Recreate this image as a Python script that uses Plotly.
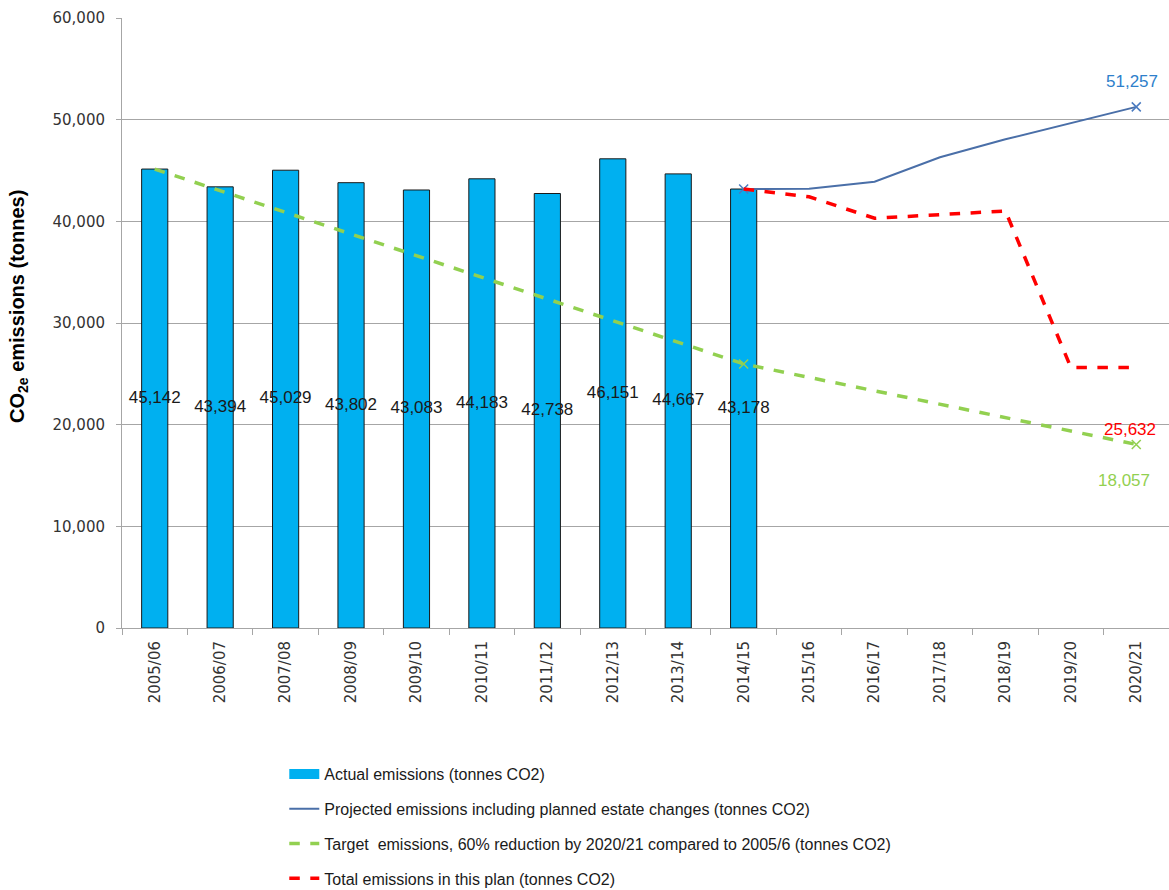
import plotly.graph_objects as go

years = ["2005/06", "2006/07", "2007/08", "2008/09", "2009/10", "2010/11", "2011/12",
         "2012/13", "2013/14", "2014/15", "2015/16", "2016/17", "2017/18", "2018/19",
         "2019/20", "2020/21"]

actual_years = years[:10]
actual = [45142, 43394, 45029, 43802, 43083, 44183, 42738, 46151, 44667, 43178]

projected_years = years[9:]
projected = [43178, 43210, 43900, 46300, 48070, 49640, 51257]

target = [45142, 43010, 40880, 38750, 36620, 34490, 32360, 30230, 28100, 25970,
          24650, 23330, 22010, 20700, 19380, 18057]

plan_years = years[9:]
plan = [43178, 42420, 40300, 40620, 41020, 25632, 25632]

# Points that carry a cross marker
projected_marked = [projected_years[0], projected_years[-1]]
projected_marked_vals = [projected[0], projected[-1]]
target_marked = [years[9], years[-1]]
target_marked_vals = [target[9], target[-1]]

LABEL_FONT = "Liberation Sans Narrow, Liberation Sans, Arial"
TICK_FONT = "DejaVu Sans, Verdana"

BAR_BLUE = "#00B0F0"
LINE_BLUE = "#4A6FA8"
GREEN = "#92D050"
RED = "#FF0000"

fig = go.Figure()

fig.add_trace(go.Bar(
    x=actual_years, y=actual, name="Actual emissions (tonnes CO2)",
    marker=dict(color=BAR_BLUE, line=dict(color="#1a1a1a", width=1)),
    width=0.4, showlegend=False,
))

# Value labels centred on each bar
fig.add_trace(go.Scatter(
    x=actual_years, y=[v / 2 for v in actual], mode="text",
    text=[f"{v:,}" for v in actual], textposition="middle center",
    textfont=dict(family=LABEL_FONT, size=17, color="#1a1a1a"),
    showlegend=False, hoverinfo="skip",
))

fig.add_trace(go.Scatter(
    x=projected_years, y=projected, mode="lines",
    line=dict(color=LINE_BLUE, width=2), showlegend=False,
))
fig.add_trace(go.Scatter(
    x=projected_marked, y=projected_marked_vals, mode="markers",
    marker=dict(symbol="x-thin", size=9, line=dict(color="#4A7BC0", width=1.5)),
    showlegend=False,
))

fig.add_trace(go.Scatter(
    x=years, y=target, mode="lines",
    line=dict(color=GREEN, width=3.5, dash="dash"), showlegend=False,
))
fig.add_trace(go.Scatter(
    x=target_marked, y=target_marked_vals, mode="markers",
    marker=dict(symbol="x-thin", size=9, line=dict(color=GREEN, width=1.5)),
    showlegend=False,
))

fig.add_trace(go.Scatter(
    x=plan_years, y=plan, mode="lines",
    line=dict(color=RED, width=3.5, dash="dash"), showlegend=False,
))

# Legend entries
legend_items = [
    ("Actual emissions (tonnes CO2)", dict(color=BAR_BLUE, width=11)),
    ("Projected emissions including planned estate changes (tonnes CO2)",
     dict(color=LINE_BLUE, width=2)),
    ("Target  emissions, 60% reduction by 2020/21 compared to 2005/6 (tonnes CO2)",
     dict(color=GREEN, width=3.5, dash="dash")),
    ("Total emissions in this plan (tonnes CO2)", dict(color=RED, width=3.5, dash="dash")),
]
for i, (label, line) in enumerate(legend_items):
    fig.add_trace(go.Scatter(
        x=[None], y=[None], mode="lines", name=label, line=line,
        legendgroup=f"g{i}", showlegend=True,
    ))

# End-point value labels
fig.add_annotation(x=years[-1], y=projected[-1], text=f"{projected[-1]:,}",
                   showarrow=False, yshift=25, xshift=-4,
                   font=dict(family=LABEL_FONT, size=17, color="#2E7FCB"))
fig.add_annotation(x=years[-1], y=plan[-1], text=f"{plan[-1]:,}",
                   showarrow=False, yshift=-62, xshift=-6,
                   font=dict(family=LABEL_FONT, size=17, color=RED))
fig.add_annotation(x=years[-1], y=target[-1], text=f"{target[-1]:,}",
                   showarrow=False, yshift=-36, xshift=-12,
                   font=dict(family=LABEL_FONT, size=17, color=GREEN))

# Y-axis title
fig.add_annotation(xref="paper", yref="paper", x=(18 - 122) / 1047, y=(628 - 307) / 610,
                   text="<b>CO<sub>2e</sub> emissions (tonnes)</b>", textangle=-90,
                   showarrow=False, xanchor="center", yanchor="middle",
                   font=dict(family=LABEL_FONT, size=20, color="#000000"))

fig.update_layout(
    width=1169, height=890,
    margin=dict(l=122, r=0, t=18, b=262, autoexpand=False),
    plot_bgcolor="white", paper_bgcolor="white",
    showlegend=True,
    legend=dict(
        x=0.155, y=1 - 757 / 890, xref="paper", yref="container",
        xanchor="left", yanchor="top",
        font=dict(family=LABEL_FONT, size=16, color="#1a1a1a"),
        traceorder="grouped", tracegroupgap=11,
        bgcolor="rgba(0,0,0,0)",
    ),
    yaxis=dict(
        range=[0, 60000], dtick=10000, tickformat=",",
        showgrid=True, gridcolor="#A6A6A6", gridwidth=1,
        showline=True, linecolor="#A6A6A6", linewidth=1,
        ticks="outside", ticklen=5, tickcolor="#A6A6A6",
        tickfont=dict(family=TICK_FONT, size=15, color="#333333"),
        ticklabelstandoff=8,
        zeroline=False,
    ),
    xaxis=dict(
        type="category", categoryorder="array", categoryarray=years,
        range=[-0.5, 15.5],
        showline=True, linecolor="#A6A6A6", linewidth=1,
        ticks="outside", ticklen=6, tickcolor="#A6A6A6", tickson="boundaries",
        tickangle=-90, ticklabelstandoff=6,
        tickfont=dict(family=TICK_FONT, size=15, color="#333333"),
        showgrid=False,
    ),
)

fig.write_html("out.html")
